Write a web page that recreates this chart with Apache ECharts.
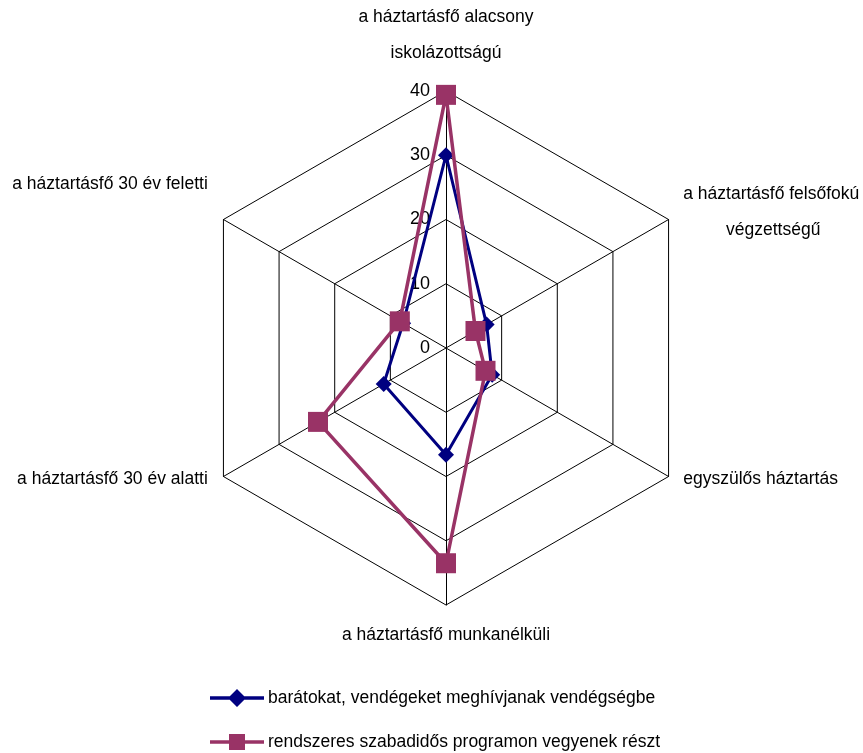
<!DOCTYPE html>
<html><head><meta charset="utf-8">
<script src="https://cdn.jsdelivr.net/npm/echarts@6/dist/echarts.min.js"></script>
<style>html,body{margin:0;padding:0;background:#fff}#c{width:863px;height:753px}</style>
</head><body><div id="c"></div>
<script>
// Categories in the reference's clockwise order, starting from the top
const categories = [
  'a háztartásfő alacsony\niskolázottságú',
  'a háztartásfő felsőfokú\nvégzettségű',
  'egyszülős háztartás',
  'a háztartásfő munkanélküli',
  'a háztartásfő 30 év alatti',
  'a háztartásfő 30 év feletti'
];
const seriesNames = [
  'barátokat, vendégeket meghívjanak vendégségbe',
  'rendszeres szabadidős programon vegyenek részt'
];
const friendsValues = [30, 7.3, 8.3, 16.6, 11.2, 7.7];
const leisureValues = [39.4, 5.3, 7.1, 33.5, 23, 8.3];
const tickLabels = ['0', '10', '20', '30', '40'];
const axisMax = 40;

// ECharts radar runs counter-clockwise: reorder so the picture reads clockwise
const order = [0, 5, 4, 3, 2, 1];
const ind = order.map(i => ({ name: categories[i], max: axisMax, min: 0 }));
const re = arr => order.map(i => arr[i]);

const font = '"Liberation Sans", Arial, sans-serif';
const CX = 446, CY = 348, R = 257;
const FS = 17.5;

// name formatting: extra (invisible) trailing line shifts some labels up
function nameFormatter(name) {
  const lines = name.split('\n');
  if (name === categories[0]) {
    return lines.map(l => '{t|' + l + '}').join('\n') + '\n{sp10|}';
  }
  if (name === categories[1]) {
    return '{r|' + lines[0] + '}\n{c|' + lines[1] + '}\n{sp4|}';
  }
  if (name === categories[2]) {
    return '{r|' + name + '}\n{sp4|}';
  }
  if (name === categories[3]) {
    return '{sp2|}\n{t|' + name + '}';
  }
  if (name === categories[4]) {
    return '{l|' + name + '}\n{sp4|}';
  }
  if (name === categories[5]) {
    return '{l|' + name + '}\n{sp60|}';
  }
  return lines.map(l => '{t|' + l + '}').join('\n');
}

const diamondIcon = 'path://M0,8.2L20,8.2L20,11.8L0,11.8Z M18,10L27,1L36,10L27,19Z M34,8.2L54,8.2L54,11.8L34,11.8Z';
const squareIcon = 'path://M0,8.2L20,8.2L20,11.8L0,11.8Z M19,2L35,2L35,18L19,18Z M34,8.2L54,8.2L54,11.8L34,11.8Z';

const legendBase = {
  orient: 'vertical',
  left: 210,
  padding: 0,
  itemWidth: 54,
  itemHeight: 20,
  itemGap: 6,
  textStyle: { fontSize: FS, color: '#000', fontFamily: font, padding: [0, 0, 0, -1] }
};

const chart = echarts.init(document.getElementById('c'));
chart.setOption({
  animation: false,
  backgroundColor: '#fff',
  textStyle: { fontFamily: font },
  legend: [
    Object.assign({}, legendBase, {
      top: 689,
      data: [{ name: seriesNames[0], icon: diamondIcon, itemStyle: { color: '#000080' } }]
    }),
    Object.assign({}, legendBase, {
      top: 733,
      data: [{ name: seriesNames[1], icon: squareIcon, itemStyle: { color: '#993366' } }]
    })
  ],
  radar: {
    center: [CX, CY],
    radius: R,
    startAngle: 90,
    shape: 'polygon',
    splitNumber: 4,
    indicator: ind,
    nameGap: 10,
    axisName: {
      color: '#000', fontSize: FS, fontFamily: font, lineHeight: 36,
      formatter: nameFormatter,
      rich: {
        t: { fontSize: FS, lineHeight: 36, color: '#000', fontFamily: font },
        r: { fontSize: FS, lineHeight: 36, color: '#000', fontFamily: font, padding: [0, 0, 0, 6] },
        l: { fontSize: FS, lineHeight: 36, color: '#000', fontFamily: font, padding: [0, 7, 0, 0] },
        c: { fontSize: FS, lineHeight: 36, color: '#000', fontFamily: font, width: 192, align: 'center' },
        sp10: { lineHeight: 10, fontSize: 1 },
        sp4: { lineHeight: 4, fontSize: 1 },
        sp2: { lineHeight: 2, fontSize: 1 },
        sp60: { lineHeight: 60, fontSize: 1 }
      }
    },
    axisLine: { lineStyle: { color: '#000', width: 1 } },
    splitLine: { lineStyle: { color: '#000', width: 1 } },
    splitArea: { show: false },
    axisTick: { show: false },
    axisLabel: { show: false }
  },
  polar: { center: [CX, CY], radius: R },
  angleAxis: { show: false, min: 0, max: 360, startAngle: 90 },
  radiusAxis: {
    min: 0, max: axisMax, interval: 10,
    axisLine: { show: false },
    axisTick: { show: false },
    splitLine: { show: false },
    axisLabel: {
      show: true,
      fontSize: 18, color: '#000', fontFamily: font,
      formatter: (v) => tickLabels[Math.round(v / 10)],
      margin: 0,
      align: 'right',
      verticalAlign: 'middle',
      padding: [0, 16, 10, 0]
    }
  },
  series: [
    {
      name: seriesNames[0],
      type: 'radar',
      symbol: 'diamond',
      symbolSize: 16,
      z: 2,
      lineStyle: { color: '#000080', width: 3 },
      itemStyle: { color: '#000080' },
      data: [{ value: re(friendsValues), name: seriesNames[0] }]
    },
    {
      name: seriesNames[1],
      type: 'radar',
      symbol: 'rect',
      symbolSize: 20,
      z: 3,
      lineStyle: { color: '#993366', width: 3.5 },
      itemStyle: { color: '#993366' },
      data: [{ value: re(leisureValues), name: seriesNames[1] }]
    }
  ]
});
</script>
</body></html>
